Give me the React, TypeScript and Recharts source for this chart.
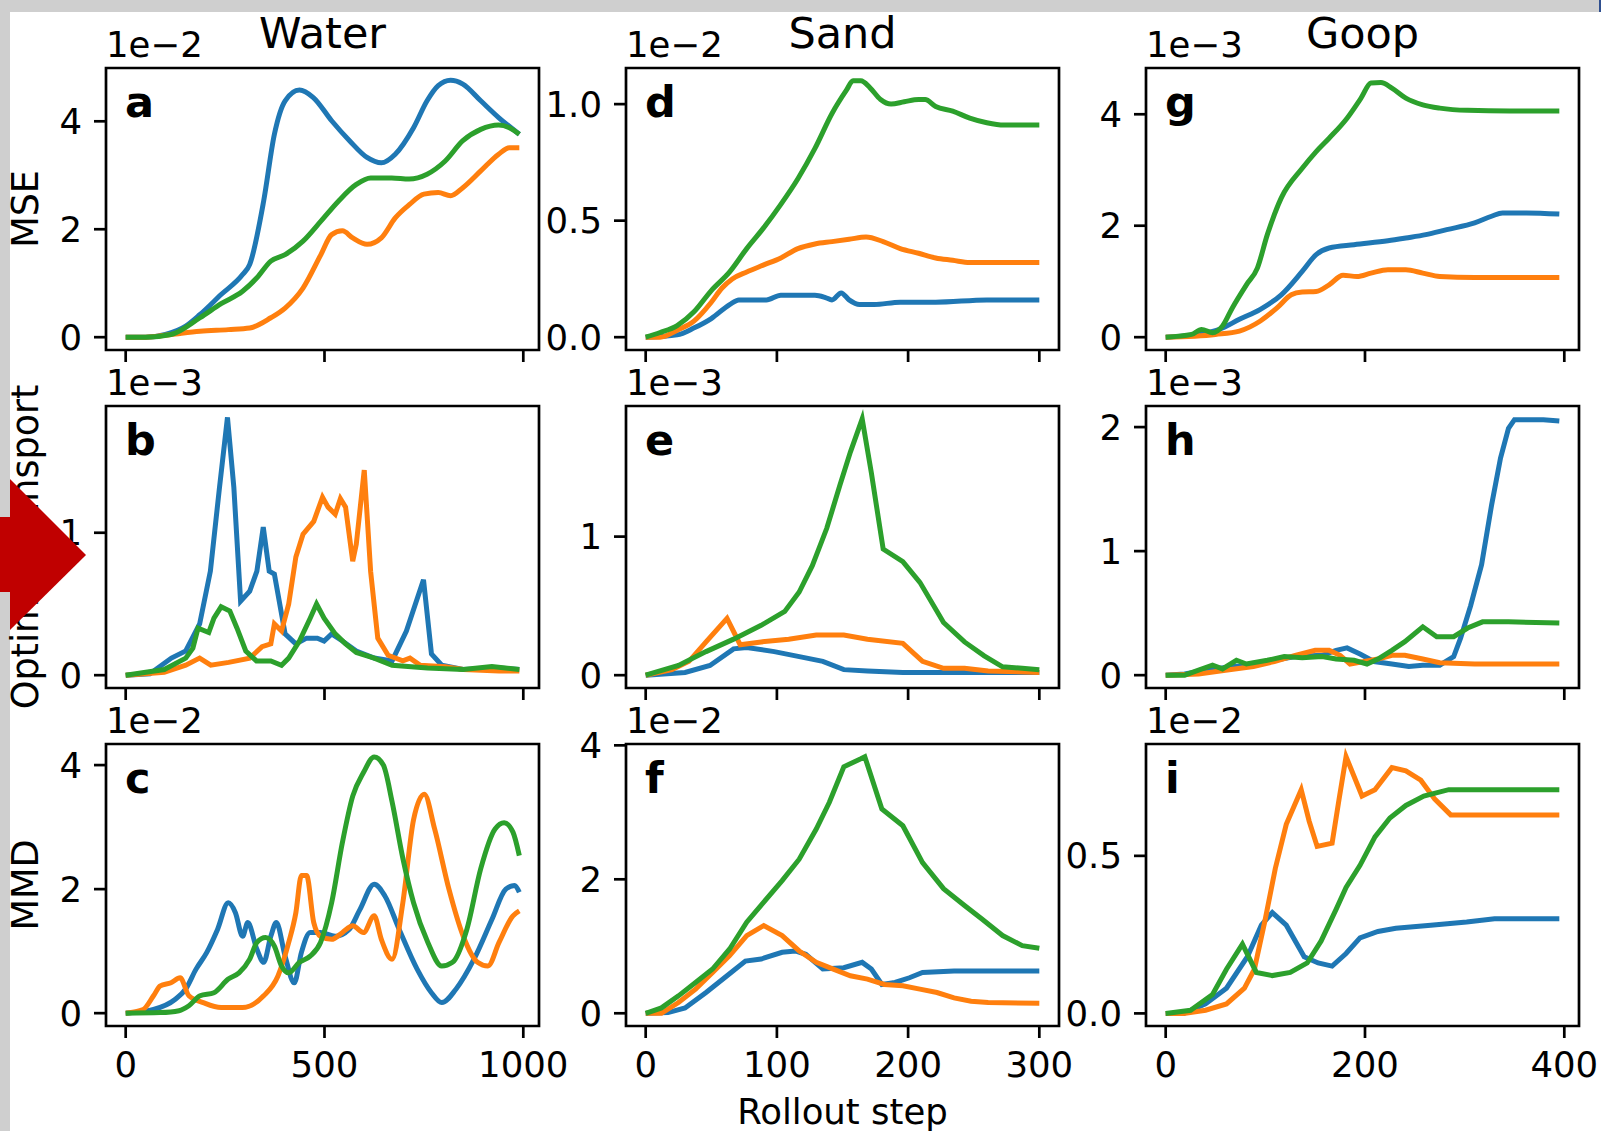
import React from "react";
import { LineChart, Line, XAxis, YAxis, ReferenceArea } from "recharts";

type Pair = [number, number];

const FONT = "DejaVu Sans, sans-serif";
const BLUE = "#1f77b4";
const ORANGE = "#ff7f0e";
const GREEN = "#2ca02c";

const columnTitles = ["Water", "Sand", "Goop"];
const rowLabels = ["MSE", "Optimal transport", "MMD"];
const panelLetters = ["a", "b", "c", "d", "e", "f", "g", "h", "i"];
const offsetTexts = ["1e\u22122", "1e\u22123", "1e\u22122", "1e\u22122", "1e\u22123", "1e\u22122", "1e\u22123", "1e\u22123", "1e\u22122"];

const waterTicks = [0, 500, 1000];
const sandTicks = [0, 100, 200, 300];
const goopTicks = [0, 200, 400];

// Water - MSE (x 1e-2)
const waterMseBlue: Pair[] = [[0,0],[50,0],[100,0.05],[150,0.2],[187,0.42],[240,0.79],[294,1.16],[312,1.35],[347,2.52],[374,3.76],[401,4.38],[437,4.58],[472,4.44],[518,4.01],[563,3.64],[607,3.33],[643,3.23],[678,3.39],[724,3.88],[758,4.38],[786,4.66],[817,4.76],[848,4.69],[893,4.38],[938,4.07],[990,3.76]];
const waterMseOrange: Pair[] = [[0,0],[50,0],[114,0.05],[187,0.11],[258,0.14],[312,0.17],[365,0.36],[401,0.54],[446,0.91],[491,1.53],[518,1.9],[545,1.97],[571,1.84],[607,1.72],[643,1.84],[678,2.21],[714,2.46],[750,2.65],[786,2.68],[817,2.62],[848,2.77],[893,3.08],[938,3.39],[965,3.51],[990,3.51]];
const waterMseGreen: Pair[] = [[0,0],[50,0],[114,0.05],[187,0.36],[240,0.62],[294,0.85],[330,1.1],[365,1.41],[401,1.53],[446,1.78],[491,2.15],[535,2.52],[580,2.83],[616,2.95],[669,2.95],[713,2.93],[758,3.02],[803,3.26],[848,3.64],[893,3.85],[938,3.93],[965,3.88],[990,3.76]];

// Water - optimal transport (x 1e-3)
const waterOtBlue: Pair[] = [[0,0],[61,0.01],[115,0.12],[151,0.17],[186,0.36],[213,0.73],[236,1.32],[256,1.81],[272,1.32],[289,0.52],[312,0.59],[330,0.73],[346,1.04],[361,0.73],[374,0.71],[401,0.29],[428,0.22],[455,0.26],[482,0.26],[499,0.24],[518,0.29],[545,0.24],[580,0.17],[625,0.12],[670,0.1],[706,0.31],[749,0.67],[769,0.15],[795,0.07],[849,0.04],[939,0.05],[990,0.04]];
const waterOtOrange: Pair[] = [[0,0],[97,0.02],[151,0.07],[186,0.12],[214,0.07],[259,0.09],[312,0.12],[343,0.2],[365,0.22],[374,0.36],[392,0.31],[410,0.5],[428,0.83],[446,0.99],[473,1.08],[495,1.25],[509,1.18],[527,1.13],[540,1.24],[553,1.18],[571,0.8],[580,0.92],[600,1.44],[616,0.73],[634,0.26],[660,0.14],[697,0.1],[715,0.12],[741,0.07],[804,0.06],[849,0.04],[939,0.03],[990,0.03]];
const waterOtGreen: Pair[] = [[0,0],[97,0.04],[151,0.12],[169,0.19],[182,0.33],[209,0.3],[222,0.4],[240,0.48],[262,0.45],[280,0.33],[302,0.17],[329,0.1],[365,0.1],[392,0.07],[410,0.12],[437,0.24],[464,0.4],[480,0.5],[499,0.4],[527,0.29],[553,0.22],[580,0.16],[625,0.12],[670,0.07],[759,0.05],[849,0.04],[921,0.06],[990,0.04]];

// Water - MMD (x 1e-2)
const waterMmdBlue: Pair[] = [[0,0],[70,0.06],[124,0.22],[151,0.39],[177,0.71],[204,0.98],[231,1.35],[258,1.78],[276,1.62],[294,1.24],[307,1.46],[330,1.03],[347,0.82],[365,1.24],[379,1.46],[401,0.92],[424,0.49],[442,0.98],[464,1.3],[490,1.3],[527,1.24],[562,1.35],[589,1.67],[625,2.08],[652,1.89],[688,1.35],[733,0.71],[769,0.33],[795,0.17],[831,0.39],[876,0.87],[921,1.51],[956,2.0],[978,2.06],[990,1.95]];
const waterMmdOrange: Pair[] = [[0,0],[44,0.06],[70,0.28],[87,0.44],[114,0.49],[137,0.57],[159,0.28],[195,0.17],[240,0.09],[294,0.09],[347,0.28],[383,0.6],[410,1.14],[428,1.62],[442,2.22],[455,2.22],[473,1.46],[490,1.24],[518,1.19],[545,1.3],[571,1.41],[598,1.3],[625,1.57],[643,1.19],[670,0.87],[697,1.78],[724,3.12],[751,3.53],[777,2.97],[813,2.0],[849,1.24],[885,0.82],[911,0.76],[939,1.14],[974,1.57],[990,1.65]];
const waterMmdGreen: Pair[] = [[0,0],[87,0.01],[134,0.04],[159,0.12],[187,0.28],[222,0.33],[258,0.55],[285,0.65],[312,0.87],[330,1.14],[352,1.22],[374,1.08],[392,0.76],[410,0.65],[437,0.82],[464,0.92],[490,1.14],[518,1.78],[545,2.75],[571,3.5],[598,3.88],[625,4.13],[648,4.0],[670,3.41],[697,2.5],[724,1.78],[760,1.14],[795,0.76],[822,0.82],[858,1.35],[893,2.33],[929,2.97],[952,3.07],[974,2.92],[990,2.54]];

// Sand - MSE (x 1e-2)
const sandMseBlue: Pair[] = [[0,0],[24,0.01],[37,0.04],[50,0.08],[64,0.14],[71,0.16],[82,0.16],[92,0.16],[103,0.18],[116,0.18],[129,0.18],[137,0.17],[142,0.16],[149,0.19],[155,0.16],[163,0.14],[174,0.14],[194,0.15],[221,0.15],[260,0.16],[300,0.16]];
const sandMseOrange: Pair[] = [[0,0],[11,0],[24,0.03],[37,0.07],[50,0.15],[58,0.21],[66,0.25],[77,0.28],[90,0.31],[103,0.34],[116,0.38],[129,0.4],[142,0.41],[155,0.42],[168,0.43],[181,0.41],[194,0.38],[208,0.36],[221,0.34],[234,0.33],[247,0.32],[300,0.32]];
const sandMseGreen: Pair[] = [[0,0],[11,0.02],[24,0.05],[37,0.11],[50,0.2],[64,0.28],[77,0.38],[90,0.47],[103,0.57],[116,0.68],[129,0.81],[142,0.96],[153,1.06],[158,1.1],[164,1.1],[171,1.07],[179,1.02],[187,1.0],[197,1.01],[208,1.02],[213,1.02],[221,0.99],[234,0.97],[247,0.94],[260,0.92],[273,0.91],[286,0.91],[300,0.91]];

// Sand - optimal transport (x 1e-3)
const sandOtBlue: Pair[] = [[0,0],[30,0.02],[49,0.07],[67,0.19],[77,0.2],[98,0.17],[119,0.13],[135,0.1],[151,0.04],[169,0.03],[196,0.02],[300,0.02]];
const sandOtOrange: Pair[] = [[0,0],[20,0.04],[33,0.1],[46,0.24],[62,0.41],[72,0.22],[88,0.24],[109,0.26],[130,0.29],[151,0.29],[169,0.26],[196,0.23],[211,0.1],[227,0.05],[243,0.05],[261,0.03],[300,0.02]];
const sandOtGreen: Pair[] = [[0,0],[25,0.07],[46,0.17],[67,0.26],[88,0.36],[106,0.46],[117,0.6],[127,0.79],[138,1.06],[148,1.37],[156,1.61],[165,1.85],[172,1.46],[181,0.91],[196,0.82],[209,0.67],[227,0.38],[243,0.24],[258,0.14],[272,0.06],[287,0.05],[300,0.04]];

// Sand - MMD (x 1e-2)
const sandMmdBlue: Pair[] = [[0,0],[17,0.01],[30,0.08],[46,0.31],[62,0.56],[76,0.78],[88,0.81],[104,0.91],[114,0.93],[122,0.88],[135,0.66],[151,0.68],[165,0.76],[172,0.66],[180,0.43],[190,0.46],[201,0.53],[211,0.61],[235,0.63],[300,0.63]];
const sandMmdOrange: Pair[] = [[0,0],[12,0],[25,0.16],[38,0.36],[51,0.61],[64,0.86],[77,1.16],[90,1.31],[104,1.16],[117,0.93],[130,0.76],[143,0.66],[156,0.56],[169,0.51],[182,0.43],[196,0.41],[209,0.36],[222,0.31],[235,0.23],[248,0.18],[261,0.16],[300,0.15]];
const sandMmdGreen: Pair[] = [[0,0],[12,0.08],[25,0.26],[38,0.46],[51,0.66],[64,0.96],[77,1.36],[90,1.66],[104,1.98],[117,2.3],[130,2.75],[140,3.15],[151,3.68],[164,3.8],[167,3.83],[180,3.05],[196,2.8],[211,2.25],[227,1.86],[243,1.61],[256,1.41],[272,1.16],[287,1.01],[300,0.97]];

// Goop - MSE (x 1e-3)
const goopMseBlue: Pair[] = [[0,0],[33,0.05],[54,0.14],[74,0.32],[95,0.5],[116,0.76],[137,1.18],[151,1.48],[164,1.6],[189,1.66],[223,1.73],[241,1.78],[261,1.84],[282,1.93],[310,2.05],[327,2.17],[338,2.23],[362,2.23],[395,2.21]];
const goopMseOrange: Pair[] = [[0,0],[50,0.05],[74,0.11],[95,0.29],[112,0.53],[126,0.76],[137,0.81],[151,0.82],[164,0.94],[178,1.11],[192,1.09],[206,1.15],[223,1.21],[241,1.21],[258,1.15],[275,1.09],[310,1.07],[395,1.07]];
const goopMseGreen: Pair[] = [[0,0],[26,0.05],[36,0.14],[47,0.08],[57,0.2],[67,0.53],[81,0.94],[92,1.24],[102,1.84],[116,2.5],[137,3.03],[151,3.33],[164,3.57],[182,3.93],[196,4.29],[206,4.56],[216,4.57],[227,4.47],[241,4.29],[258,4.17],[275,4.11],[303,4.07],[345,4.06],[395,4.06]];

// Goop - optimal transport (x 1e-3)
const goopOtBlue: Pair[] = [[0,0],[19,0.01],[40,0.04],[67,0.07],[88,0.08],[109,0.12],[130,0.15],[157,0.16],[171,0.2],[182,0.22],[195,0.17],[209,0.11],[227,0.09],[244,0.07],[258,0.08],[275,0.08],[289,0.15],[296,0.3],[306,0.56],[317,0.89],[327,1.37],[336,1.75],[344,1.99],[350,2.06],[379,2.06],[395,2.05]];
const goopOtOrange: Pair[] = [[0,0],[33,0.01],[60,0.04],[88,0.07],[109,0.11],[130,0.16],[150,0.2],[164,0.2],[175,0.16],[185,0.09],[199,0.11],[213,0.13],[227,0.16],[240,0.16],[258,0.13],[275,0.1],[310,0.09],[395,0.09]];
const goopOtGreen: Pair[] = [[0,0],[19,0],[33,0.04],[47,0.08],[57,0.05],[71,0.12],[81,0.09],[102,0.12],[119,0.15],[137,0.14],[157,0.15],[171,0.13],[189,0.12],[202,0.09],[213,0.13],[227,0.2],[240,0.27],[258,0.39],[272,0.31],[289,0.31],[303,0.38],[318,0.43],[344,0.43],[395,0.42]];

// Goop - MMD (x 1e-2)
const goopMmdBlue: Pair[] = [[0,0],[18,0],[40,0.03],[61,0.08],[82,0.18],[96,0.28],[107,0.32],[121,0.28],[139,0.18],[153,0.16],[167,0.15],[181,0.19],[195,0.24],[213,0.26],[231,0.27],[266,0.28],[302,0.29],[330,0.3],[395,0.3]];
const goopMmdOrange: Pair[] = [[0,0],[18,0],[40,0.01],[61,0.03],[79,0.08],[89,0.14],[100,0.3],[110,0.46],[121,0.6],[136,0.71],[144,0.61],[152,0.53],[167,0.54],[174,0.68],[181,0.815],[197,0.69],[210,0.71],[227,0.78],[241,0.77],[256,0.74],[270,0.68],[286,0.63],[319,0.63],[395,0.63]];
const goopMmdGreen: Pair[] = [[0,0],[25,0.01],[47,0.06],[61,0.14],[77,0.22],[91,0.13],[107,0.12],[125,0.13],[142,0.16],[156,0.23],[171,0.33],[181,0.4],[195,0.47],[210,0.56],[225,0.62],[241,0.66],[259,0.69],[284,0.71],[319,0.71],[395,0.71]];

const BOX_W = 433;
const BOX_H = 282;
const colLeft = [106, 626, 1146];
const rowTop = [68, 406, 744];
const Y_AXIS_W = 110;
const X_AXIS_H = 70;
const PAD_TOP = 30;
const PAD_RIGHT = 70;

const toPts = (arr: Pair[]) => arr.map(([x, y]) => ({ x, y }));
const intFmt = (v: number) => String(v);
const oneDec = (v: number) => v.toFixed(1);

type PanelDef = {
  col: number;
  row: number;
  xDomain: [number, number];
  xTicks: number[];
  yDomain: [number, number];
  yTicks: number[];
  fmt: (v: number) => string;
  curve: "monotone" | "linear";
  series: [Pair[], Pair[], Pair[]];
};

const panels: PanelDef[] = [
  { col: 0, row: 0, xDomain: [-49.5, 1039.5], xTicks: waterTicks, yDomain: [-0.2375, 4.9875], yTicks: [0, 2, 4], fmt: intFmt, curve: "monotone", series: [waterMseBlue, waterMseOrange, waterMseGreen] },
  { col: 0, row: 1, xDomain: [-49.5, 1039.5], xTicks: waterTicks, yDomain: [-0.09, 1.89], yTicks: [0, 1], fmt: intFmt, curve: "linear", series: [waterOtBlue, waterOtOrange, waterOtGreen] },
  { col: 0, row: 2, xDomain: [-49.5, 1039.5], xTicks: waterTicks, yDomain: [-0.207, 4.34], yTicks: [0, 2, 4], fmt: intFmt, curve: "monotone", series: [waterMmdBlue, waterMmdOrange, waterMmdGreen] },
  { col: 1, row: 0, xDomain: [-15, 315], xTicks: sandTicks, yDomain: [-0.055, 1.155], yTicks: [0, 0.5, 1], fmt: oneDec, curve: "monotone", series: [sandMseBlue, sandMseOrange, sandMseGreen] },
  { col: 1, row: 1, xDomain: [-15, 315], xTicks: sandTicks, yDomain: [-0.0925, 1.9425], yTicks: [0, 1], fmt: intFmt, curve: "linear", series: [sandOtBlue, sandOtOrange, sandOtGreen] },
  { col: 1, row: 2, xDomain: [-15, 315], xTicks: sandTicks, yDomain: [-0.19, 4.02], yTicks: [0, 2, 4], fmt: intFmt, curve: "linear", series: [sandMmdBlue, sandMmdOrange, sandMmdGreen] },
  { col: 2, row: 0, xDomain: [-19.75, 414.75], xTicks: goopTicks, yDomain: [-0.23, 4.83], yTicks: [0, 2, 4], fmt: intFmt, curve: "monotone", series: [goopMseBlue, goopMseOrange, goopMseGreen] },
  { col: 2, row: 1, xDomain: [-19.75, 414.75], xTicks: goopTicks, yDomain: [-0.1035, 2.17], yTicks: [0, 1, 2], fmt: intFmt, curve: "linear", series: [goopOtBlue, goopOtOrange, goopOtGreen] },
  { col: 2, row: 2, xDomain: [-19.75, 414.75], xTicks: goopTicks, yDomain: [-0.04, 0.855], yTicks: [0, 0.5], fmt: oneDec, curve: "linear", series: [goopMmdBlue, goopMmdOrange, goopMmdGreen] },
];

const seriesColors = [BLUE, ORANGE, GREEN];
const tickStyle = { fill: "#000", fontSize: 35.5, fontFamily: FONT };
const tickLineStyle = { stroke: "#000", strokeWidth: 2.7 };

function Panel({ p }: { p: PanelDef }) {
  const left = colLeft[p.col];
  const top = rowTop[p.row];
  const showX = p.row === 2;
  return (
    <div style={{ position: "absolute", left: left - Y_AXIS_W, top: top - PAD_TOP }}>
      <LineChart
        width={BOX_W + Y_AXIS_W + PAD_RIGHT}
        height={BOX_H + X_AXIS_H + PAD_TOP}
        margin={{ top: PAD_TOP, right: PAD_RIGHT, bottom: 0, left: 0 }}
      >
        <XAxis
          type="number"
          dataKey="x"
          domain={p.xDomain}
          ticks={p.xTicks}
          allowDataOverflow
          interval={0}
          height={X_AXIS_H}
          axisLine={false}
          tickSize={12}
          tickMargin={14}
          tickLine={tickLineStyle}
          tick={showX ? tickStyle : () => <g />}
        />
        <YAxis
          type="number"
          domain={p.yDomain}
          ticks={p.yTicks}
          allowDataOverflow
          interval={0}
          width={Y_AXIS_W}
          axisLine={false}
          tickSize={12}
          tickMargin={12}
          tickLine={tickLineStyle}
          tick={tickStyle}
          tickFormatter={p.fmt}
        />
        {p.series.map((s, i) => (
          <Line
            key={i}
            data={toPts(s)}
            dataKey="y"
            type={p.curve}
            stroke={seriesColors[i]}
            strokeWidth={5}
            dot={false}
            activeDot={false}
            isAnimationActive={false}
          />
        ))}
        <ReferenceArea
          x1={p.xDomain[0]}
          x2={p.xDomain[1]}
          y1={p.yDomain[0]}
          y2={p.yDomain[1]}
          fill="none"
          stroke="#000"
          strokeWidth={2.7}
          ifOverflow="visible"
        />
      </LineChart>
    </div>
  );
}

export default function App() {
  const W = 1601;
  const H = 1131;
  return (
    <div style={{ position: "absolute", left: 0, top: 0, width: W, height: H, background: "#fff", overflow: "hidden" }}>
      {/* slide frame */}
      <div style={{ position: "absolute", left: 0, top: 0, width: W, height: 12, background: "#cfcfcf" }} />
      <div style={{ position: "absolute", left: 0, top: 0, width: 10, height: H, background: "#cfcfcf" }} />
      <div style={{ position: "absolute", left: W - 2, top: 0, width: 2, height: 12, background: "#2f4f8f" }} />

      {panels.map((p, i) => (
        <Panel key={i} p={p} />
      ))}

      <svg width={W} height={H} style={{ position: "absolute", left: 0, top: 0, pointerEvents: "none" }} fontFamily={FONT}>
        {columnTitles.map((t, c) => (
          <text key={t} x={colLeft[c] + BOX_W / 2} y={48} textAnchor="middle" fontSize={43} fill="#000">
            {t}
          </text>
        ))}
        {panels.map((p, i) => (
          <g key={i}>
            <text x={colLeft[p.col]} y={rowTop[p.row] - 11} fontSize={35.5} fill="#000">
              {offsetTexts[i]}
            </text>
            <text x={colLeft[p.col] + 19} y={rowTop[p.row] + 49} fontSize={43} fontWeight="bold" fill="#000">
              {panelLetters[i]}
            </text>
          </g>
        ))}
        {rowLabels.map((t, r) => {
          const cy = rowTop[r] + BOX_H / 2;
          return (
            <text key={t} x={38} y={cy} textAnchor="middle" fontSize={36.5} fill="#000" transform={`rotate(-90 38 ${cy})`}>
              {t}
            </text>
          );
        })}
        <text x={colLeft[1] + BOX_W / 2} y={1124} textAnchor="middle" fontSize={35.5} fill="#000">
          Rollout step
        </text>
        {/* red arrow */}
        <rect x={0} y={517} width={11} height={75} fill="#c00000" />
        <polygon points="10,479 86,555 10,630" fill="#c00000" />
      </svg>
    </div>
  );
}
